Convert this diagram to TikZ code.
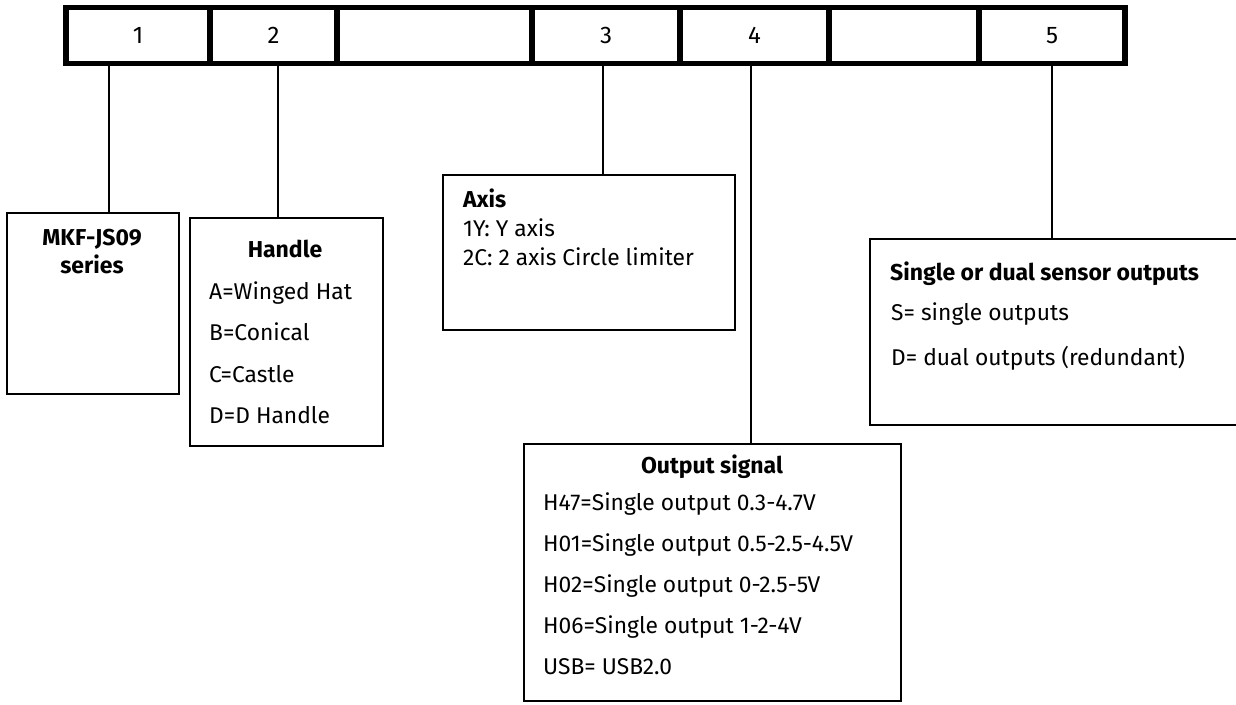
\documentclass[tikz,border=0pt]{standalone}
\usepackage{fontspec}
\setmainfont{Fira Sans}
\usepackage{tikz}

\tikzset{
  cell/.style={draw, line width=5.5pt, minimum height=56pt, inner sep=0pt, font=\fontsize{24}{28}\selectfont},
  infobox/.style={draw, line width=2.4pt, anchor=north west, inner sep=0pt},
  link/.style={line width=2.4pt},
  ttl/.style={font=\fontsize{23}{27}\selectfont\bfseries, inner sep=0pt},
  txt/.style={font=\fontsize{22.8}{26}\selectfont, inner sep=0pt, anchor=base west},
}

\begin{document}
\begin{tikzpicture}[x=1pt, y=-1pt]
        \useasboundingbox (0,0) rectangle (1236,704);
        \clip (0,0) rectangle (1236,704);
        % code bar
        \node[cell, minimum width=144pt] (c1) at (138,35.5) {1};
        \node[cell, minimum width=127pt] (c2) at (273.5,35.5) {2};
        \node[cell, minimum width=195pt] (ca) at (434.5,35.5) {};
        \node[cell, minimum width=148pt] (c3) at (606,35.5) {3};
        \node[cell, minimum width=149pt] (c4) at (754.5,35.5) {4};
        \node[cell, minimum width=150pt] (cb) at (904,35.5) {};
        \node[cell, minimum width=146pt] (c5) at (1052,35.5) {5};
        % boxes
        \node[infobox, minimum width=172pt, minimum height=180.5pt] (series) at (6,212) {};
        \node[infobox, minimum width=192.5pt, minimum height=228.5pt] (handle) at (189,216.5) {};
        \node[infobox, minimum width=292pt, minimum height=155pt] (axis) at (442,173.5) {};
        \node[infobox, minimum width=420pt, minimum height=186pt] (sensor) at (869,238) {};
        \node[infobox, minimum width=377pt, minimum height=257pt] (output) at (523,443) {};
        % texts
        \node[ttl, anchor=base] (s1) at (92,245) {MKF-JS09};
        \node[ttl, anchor=base] (s2) at (92,273) {series};
        \node[ttl, anchor=base] (h0) at (285,257) {Handle};
        \node[txt] (h1) at (209,299) {A=Winged Hat};
        \node[txt] (h2) at (209,340) {B=Conical};
        \node[txt] (h3) at (209,382) {C=Castle};
        \node[txt] (h4) at (209,423) {D=D Handle};
        \node[ttl, anchor=base west] (a0) at (463,207) {Axis};
        \node[txt] (a1) at (463,236) {1Y: Y axis};
        \node[txt] (a2) at (463,265) {2C: 2 axis Circle limiter};
        \node[ttl, anchor=base west] (d0) at (890,280) {Single or dual sensor outputs};
        \node[txt] (d1) at (891,320) {S= single outputs};
        \node[txt] (d2) at (891,365) {D= dual outputs (redundant)};
        \node[ttl, anchor=base] (o0) at (712,473) {Output signal};
        \node[txt] (o1) at (543,510) {H47=Single output 0.3-4.7V};
        \node[txt] (o2) at (543,551) {H01=Single output 0.5-2.5-4.5V};
        \node[txt] (o3) at (543,592) {H02=Single output 0-2.5-5V};
        \node[txt] (o4) at (543,633) {H06=Single output 1-2-4V};
        \node[txt] (o5) at (543,674) {USB= USB2.0};
        % connectors
        \coordinate (t1) at (109,63.5);
        \coordinate (t2) at (278,63.5);
        \coordinate (t3) at (603,63.5);
        \coordinate (t4) at (751,63.5);
        \coordinate (t5) at (1052,63.5);
        \draw[link] (t1) -- (t1 |- series.north);
        \draw[link] (t2) -- (t2 |- handle.north);
        \draw[link] (t3) -- (t3 |- axis.north);
        \draw[link] (t4) -- (t4 |- output.north);
        \draw[link] (t5) -- (t5 |- sensor.north);
      \end{tikzpicture}
\end{document}
